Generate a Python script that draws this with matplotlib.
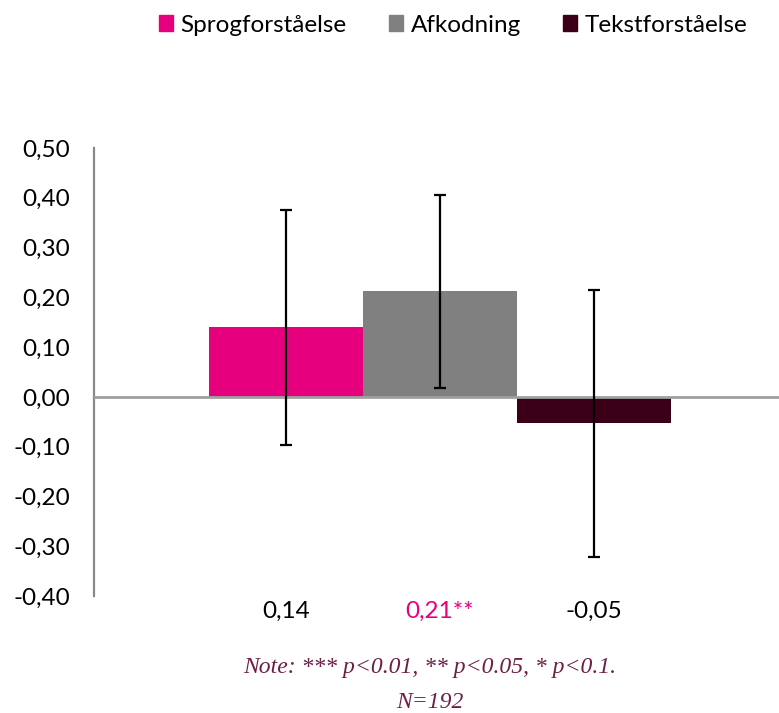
import numpy as np
import matplotlib
matplotlib.use("Agg")
import matplotlib.pyplot as plt
from matplotlib.patches import Patch

# data
series = ["Sprogforståelse", "Afkodning", "Tekstforståelse"]
values = [0.14, 0.212, -0.053]
errors = [0.236, 0.194, 0.268]
value_labels = ["0,14", "0,21**", "-0,05"]
label_colors = ["black", "#E6007E", "black"]
colors = ["#E6007E", "#808080", "#3B0018"]
yticks = [-0.4, -0.3, -0.2, -0.1, 0.0, 0.1, 0.2, 0.3, 0.4, 0.5]

plt.rcParams['font.family'] = ['Lato', 'DejaVu Sans']
FS = 17.5

W, H = 779, 713
fig = plt.figure(figsize=(W/100, H/100), dpi=100)
ax = fig.add_axes([94/W, (H-596)/H, (786-94)/W, (596-148)/H])

# one category, three bars, gap 50%
bw = 1/3 * (2/3)
x = np.array([-bw, 0, bw])
for xi, v, e, c, name in zip(x, values, errors, colors, series):
    ax.bar(xi, v, width=bw, color=c, label=name, zorder=2)
    ax.errorbar(xi, v, yerr=e, fmt='none', ecolor='black', elinewidth=1.6,
                capsize=4.5, capthick=1.6, zorder=4)

ax.axhline(0, color="#A0A0A0", lw=2, zorder=3)
ax.set_xlim(-0.5, 0.5)
ax.set_ylim(-0.4, 0.5)
ax.set_yticks(yticks)
ax.set_yticklabels([f"{t:.2f}".replace(".", ",") for t in yticks], fontsize=FS)
ax.tick_params(axis='y', length=0, pad=17)
ax.set_xticks([])
for s in ["top", "right", "bottom"]:
    ax.spines[s].set_visible(False)
ax.spines["left"].set_color("#898989")
ax.spines["left"].set_linewidth(1.6)
ax.spines["left"].set_bounds(-0.4, 0.5)

# value labels under each bar
for xi, lab, lc in zip(x, value_labels, label_colors):
    ax.text(xi, -0.43, lab, ha="center", va="center", fontsize=FS, color=lc)

# legend
handles = [Patch(color=c) for c in colors]
fig.legend(handles, series, loc="center", bbox_to_anchor=(453/W, 1 - 25/H),
           ncol=3, frameon=False, fontsize=FS, handlelength=0.6,
           handleheight=0.6, handletextpad=0.3, columnspacing=1.72)

# note
note_kw = dict(ha="center", va="center", fontsize=17, style="italic",
               color="#6E1F45", family="Liberation Serif")
fig.text(430/W, 1 - 668/H, "Note: *** p<0.01, ** p<0.05, * p<0.1.", **note_kw)
fig.text(430/W, 1 - 702/H, "N=192", **note_kw)

fig.savefig("out.png", dpi=100)
